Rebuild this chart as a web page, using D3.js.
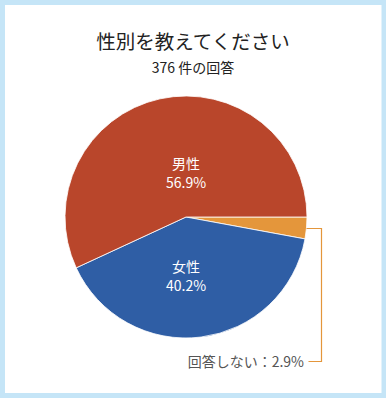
<!DOCTYPE html>
<html>
<head>
<meta charset="utf-8">
<script src="https://cdn.jsdelivr.net/npm/d3@7"></script>
<style>
  body { margin: 0; background: #fff; }
  text { font-family: "Noto Sans CJK JP", "Noto Sans", sans-serif; }
</style>
</head>
<body>
<div id="chart"></div>
<script>
const title = '性別を教えてください';
const subtitle = '376 件の回答';

// slices in drawing order, clockwise from 3 o'clock
const categories = ['回答しない', '女性', '男性'];
const values = [2.9, 40.2, 56.9];
const colors = ['#e4963b', '#2f5ea5', '#b9462b'];
const insideLabel = [false, true, true];

const width = 386;
const height = 398;
const cx = 186;
const cy = 217;
const radius = 121;

const data = categories.map((name, i) => ({
  name,
  value: values[i],
  color: colors[i],
  inside: insideLabel[i],
}));

const svg = d3.select('#chart')
  .append('svg')
  .attr('width', width)
  .attr('height', height);

// light blue frame
svg.append('rect')
  .attr('width', width)
  .attr('height', height)
  .attr('fill', '#c5e5f7');
svg.append('rect')
  .attr('x', 5)
  .attr('y', 5)
  .attr('width', width - 9.5)
  .attr('height', height - 10)
  .attr('fill', '#fff');

svg.append('text')
  .attr('x', 193)
  .attr('y', 49)
  .attr('text-anchor', 'middle')
  .attr('font-size', 19.5)
  .attr('fill', '#222')
  .text(title);

svg.append('text')
  .attr('x', 193)
  .attr('y', 73)
  .attr('text-anchor', 'middle')
  .attr('font-size', 14)
  .attr('fill', '#222')
  .text(subtitle);

const pie = d3.pie()
  .sort(null)
  .value(d => d.value)
  .startAngle(Math.PI / 2)
  .endAngle(Math.PI / 2 + 2 * Math.PI);

const arc = d3.arc()
  .innerRadius(0)
  .outerRadius(radius);

const arcs = pie(data);

const g = svg.append('g')
  .attr('transform', `translate(${cx}, ${cy})`);

g.selectAll('path')
  .data(arcs)
  .enter()
  .append('path')
  .attr('d', arc)
  .attr('fill', d => d.data.color)
  .attr('stroke', '#fff')
  .attr('stroke-width', 0.8);

// labels inside slices, placed at the sector's centre of mass height
function massCentre(d) {
  const half = (d.endAngle - d.startAngle) / 2;
  const mid = (d.startAngle + d.endAngle) / 2;
  const dist = (2 * radius * Math.sin(half)) / (3 * half);
  return [dist * Math.sin(mid), -dist * Math.cos(mid)];
}

const inside = g.selectAll('.inside')
  .data(arcs.filter(d => d.data.inside))
  .enter()
  .append('text')
  .attr('class', 'inside')
  .attr('text-anchor', 'middle')
  .attr('font-size', 14)
  .attr('fill', '#fff')
  .attr('transform', d => `translate(0, ${massCentre(d)[1]})`);

inside.append('tspan')
  .attr('x', 0)
  .attr('y', -5)
  .text(d => d.data.name);
inside.append('tspan')
  .attr('x', 0)
  .attr('y', 14)
  .text(d => d.data.value.toFixed(1) + '%');

// outside label with leader line for the small slice
const small = arcs.filter(d => !d.data.inside);
const leaderX = radius + 14.5;
const leaderY = radius + 23.5;

small.forEach(d => {
  const mid = (d.startAngle + d.endAngle) / 2;
  const sx = radius * Math.sin(mid);
  const sy = Math.round(-radius * Math.cos(mid)) + 0.5;
  const line = d3.line();
  g.append('path')
    .attr('d', line([[sx, sy], [leaderX, sy], [leaderX, leaderY], [leaderX - 13, leaderY]]))
    .attr('fill', 'none')
    .attr('stroke', d.data.color)
    .attr('stroke-width', 1.2);
  g.append('text')
    .attr('x', leaderX - 17.5)
    .attr('y', leaderY + 5)
    .attr('text-anchor', 'end')
    .attr('font-size', 14)
    .attr('fill', '#555')
    .text(d.data.name + '：' + d.data.value.toFixed(1) + '%');
});
</script>
</body>
</html>
